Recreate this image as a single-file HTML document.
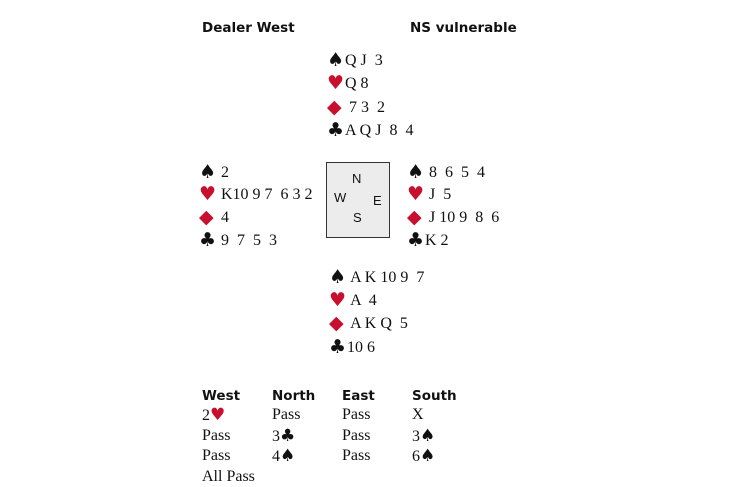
<!DOCTYPE html>
<html><head><style>
body{margin:0;width:730px;height:486px;background:#fff;position:relative;overflow:hidden;font-family:"Liberation Serif",serif;color:#111}
.t{position:absolute;font-size:16px;line-height:20px;white-space:pre;transform:translateY(-10px)}
.h{position:absolute;font-family:"DejaVu Sans","Liberation Sans",sans-serif;font-weight:bold;font-size:13.5px;line-height:18px;transform:translateY(-9px)}
.r{color:#c8102e}
.s{font-family:"DejaVu Sans",sans-serif;font-size:19px;display:inline-block;width:18px;vertical-align:-1px}
.a{font-family:"DejaVu Sans",sans-serif;font-size:17px}
.box{position:absolute;left:326px;top:162px;width:62px;height:74px;border:1.5px solid #333;background:#ececec}
.c{position:absolute;font-family:"Liberation Sans",sans-serif;font-size:13px;line-height:14px}
</style></head><body>
<div class="h" style="left:202px;top:28px">Dealer West</div>
<div class="h" style="left:410px;top:28px">NS vulnerable</div>

<div class="t" style="left:327px;top:60px"><span class="s">♠</span>Q J  3</div>
<div class="t" style="left:327px;top:83px"><span class="s r">♥</span>Q 8</div>
<div class="t" style="left:327px;top:107px"><span class="s r">◆</span> 7 3  2</div>
<div class="t" style="left:327px;top:130px"><span class="s">♣</span>A Q J  8  4</div>

<div class="t" style="left:199px;top:172px"><span class="s">♠</span> 2</div>
<div class="t" style="left:199px;top:194px"><span class="s r">♥</span> K10 9 7  6 3 2</div>
<div class="t" style="left:199px;top:217px"><span class="s r">◆</span> 4</div>
<div class="t" style="left:199px;top:240px"><span class="s">♣</span> 9  7  5  3</div>

<div class="box"></div>
<div class="c" style="left:352px;top:172px">N</div>
<div class="c" style="left:334px;top:191px">W</div>
<div class="c" style="left:373px;top:194px">E</div>
<div class="c" style="left:353px;top:211px">S</div>

<div class="t" style="left:407px;top:172px"><span class="s">♠</span> 8  6  5  4</div>
<div class="t" style="left:407px;top:194px"><span class="s r">♥</span> J  5</div>
<div class="t" style="left:407px;top:217px"><span class="s r">◆</span> J 10 9  8  6</div>
<div class="t" style="left:407px;top:240px"><span class="s">♣</span>K 2</div>

<div class="t" style="left:329px;top:277px"><span class="s">♠</span> A K 10 9  7</div>
<div class="t" style="left:329px;top:300px"><span class="s r">♥</span> A  4</div>
<div class="t" style="left:329px;top:323px"><span class="s r">◆</span> A K Q  5</div>
<div class="t" style="left:329px;top:347px"><span class="s">♣</span>10 6</div>

<div class="h" style="left:202px;top:396px">West</div>
<div class="h" style="left:272px;top:396px">North</div>
<div class="h" style="left:342px;top:396px">East</div>
<div class="h" style="left:412px;top:396px">South</div>
<div class="t" style="left:202px;top:415px">2<span class="a r">♥</span></div>
<div class="t" style="left:272px;top:415px">Pass</div>
<div class="t" style="left:342px;top:415px">Pass</div>
<div class="t" style="left:412px;top:415px">X</div>
<div class="t" style="left:202px;top:436px">Pass</div>
<div class="t" style="left:272px;top:436px">3<span class="a">♣</span></div>
<div class="t" style="left:342px;top:436px">Pass</div>
<div class="t" style="left:412px;top:436px">3<span class="a">♠</span></div>
<div class="t" style="left:202px;top:456px">Pass</div>
<div class="t" style="left:272px;top:456px">4<span class="a">♠</span></div>
<div class="t" style="left:342px;top:456px">Pass</div>
<div class="t" style="left:412px;top:456px">6<span class="a">♠</span></div>
<div class="t" style="left:202px;top:477px">All Pass</div>
</body></html>
